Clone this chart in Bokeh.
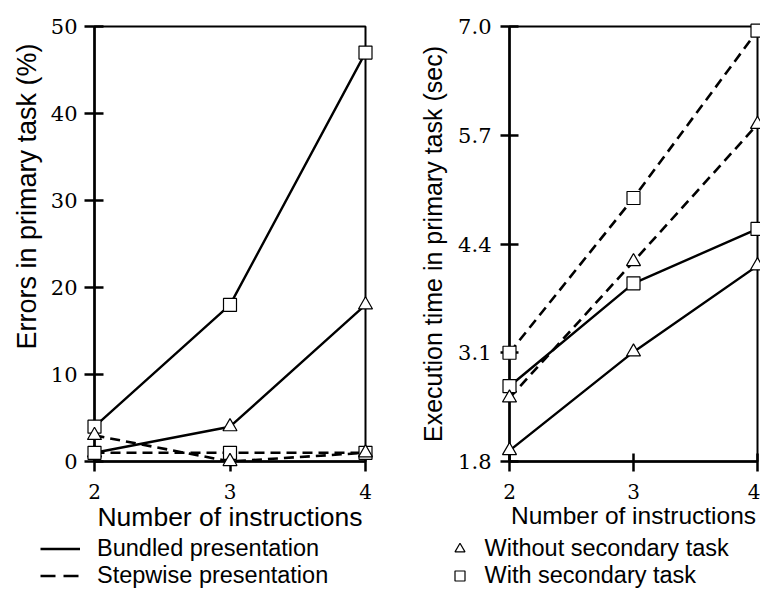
from bokeh.plotting import figure
from bokeh.layouts import row, column
from bokeh.models import Range1d, FixedTicker, Legend, LegendItem, PrintfTickFormatter, Title
from bokeh.embed import file_html
from bokeh.resources import INLINE

# ---- data ----
instructions = [2, 3, 4]
x_ticks = [2, 3, 4]
err_ticks = [0, 10, 20, 30, 40, 50]
time_ticks = [1.8, 3.1, 4.4, 5.7, 7.0]

# Errors in primary task (%)
err_bundled_with = [4, 18, 47]
err_bundled_without = [1, 4, 18]
err_stepwise_with = [1, 1, 1]
err_stepwise_without = [3, 0, 1]

# Execution time in primary task (sec)
time_bundled_with = [2.70, 3.93, 4.58]
time_bundled_without = [1.93, 3.11, 4.14]
time_stepwise_with = [3.10, 4.95, 6.95]
time_stepwise_without = [2.56, 4.19, 5.83]

SANS = "Liberation Sans"
SERIF = "DejaVu Serif"
DASH = "10 6"
PLOT_H = 534
LEG_H = 589 - PLOT_H


def make_fig(ylo, yhi, yticks, mb_left, mb_right, mb_top, xlabel_size):
    p = figure(width=380, height=PLOT_H, output_backend="svg", toolbar_location=None,
               title=None, x_range=Range1d(2, 4), y_range=Range1d(ylo, yhi),
               min_border_left=mb_left, min_border_right=mb_right,
               min_border_top=mb_top, min_border_bottom=PLOT_H - 463)
    p.background_fill_color = "white"
    p.border_fill_color = "white"
    p.outline_line_color = "black"
    p.outline_line_width = 2
    p.grid.visible = False
    for ax in (p.xaxis[0], p.yaxis[0]):
        ax.axis_line_width = 2.5
        ax.major_tick_line_width = 2.5
        ax.minor_tick_line_color = None
        ax.major_label_text_font = SERIF
        ax.major_label_text_font_size = "21px"
        ax.major_label_text_color = "black"
        ax.axis_label_text_font = SANS
        ax.axis_label_text_font_style = "normal"
        ax.axis_label_text_color = "black"
    p.xaxis.ticker = FixedTicker(ticks=x_ticks)
    p.xaxis.major_label_text_font_size = "20px"
    p.xaxis.major_tick_out = 10
    p.xaxis.major_tick_in = 8
    p.xaxis.major_label_standoff = 12
    p.xaxis.axis_label = "Number of instructions"
    p.xaxis.axis_label_text_font_size = xlabel_size
    p.xaxis.axis_label_standoff = 0
    p.yaxis.ticker = FixedTicker(ticks=yticks)
    p.yaxis.major_tick_out = 10
    p.yaxis.major_tick_in = 9
    return p


def add_series(p, ys, dash, marker, level="overlay"):
    r = p.line(instructions, ys, line_color="black",
               line_width=2.4 if dash == "solid" else 2.6, line_dash=dash)
    m = p.scatter(instructions, ys, marker=marker, size=13 if marker == "square" else 14,
                  fill_color="white", line_color="black", line_width=1.2, level=level)
    return r, m


def make_legend_fig():
    # legend strip: its frame shows a range with no data in it, so only the legend is seen
    q = figure(width=380, height=LEG_H, output_backend="svg", toolbar_location=None,
               title=None, x_range=Range1d(100, 101), y_range=Range1d(100, 101),
               x_axis_location=None, y_axis_location=None,
               min_border_left=0, min_border_right=0, min_border_top=0, min_border_bottom=0)
    q.outline_line_color = None
    q.grid.visible = False
    q.background_fill_color = "white"
    q.border_fill_color = "white"
    return q


# ---- left panel ----
p1 = make_fig(0, 50, err_ticks, 94, 15, 26, "26.5px")
p1.yaxis.major_label_standoff = 7
p1.add_layout(Title(text="Errors in primary task (%)", align="right", offset=17,
                    vertical_align="middle", standoff=10, text_font=SANS,
                    text_font_size="27px", text_font_style="normal", text_color="black"),
              "left")
add_series(p1, err_bundled_with, "solid", "square")
add_series(p1, err_bundled_without, "solid", "triangle")
add_series(p1, err_stepwise_with, DASH, "square")
add_series(p1, err_stepwise_without, DASH, "triangle")

q1 = make_legend_fig()
lq_solid, _ = add_series(q1, err_bundled_with, "solid", "square", level="glyph")
lq_dash, _ = add_series(q1, err_stepwise_with, "15 8", "square", level="glyph")
leg1 = Legend(items=[LegendItem(label="Bundled presentation", renderers=[lq_solid]),
                     LegendItem(label="Stepwise presentation", renderers=[lq_dash])],
              location=(40, 0.5), padding=0, margin=0, spacing=0,
              glyph_width=40, glyph_height=27, label_height=27, label_standoff=17,
              label_text_font=SANS, label_text_font_size="23.5px", label_text_color="black",
              border_line_alpha=0, background_fill_alpha=0)
q1.add_layout(leg1)

# ---- right panel ----
p2 = make_fig(1.8, 7.0, time_ticks, 129, 3, 18, "24.5px")
p2.yaxis.formatter = PrintfTickFormatter(format="%.1f")
p2.yaxis.major_label_standoff = 9
p2.yaxis.major_tick_out = 9
p2.yaxis.axis_label = "Execution time in primary task (sec)"
p2.yaxis.axis_label_text_font_size = "25px"
p2.yaxis.axis_label_standoff = 8
add_series(p2, time_bundled_with, "solid", "square")
add_series(p2, time_bundled_without, "solid", "triangle")
add_series(p2, time_stepwise_with, DASH, "square")
add_series(p2, time_stepwise_without, DASH, "triangle")

q2 = make_legend_fig()
_, mq_tri = add_series(q2, time_bundled_without, "solid", "triangle", level="glyph")
_, mq_sq = add_series(q2, time_bundled_with, "solid", "square", level="glyph")
leg2 = Legend(items=[LegendItem(label="Without secondary task", renderers=[mq_tri]),
                     LegendItem(label="With secondary task", renderers=[mq_sq])],
              location=(66.5, 0.5), padding=0, margin=0, spacing=0,
              glyph_width=25, glyph_height=27, label_height=27, label_standoff=13,
              label_text_font=SANS, label_text_font_size="23.5px", label_text_color="black",
              border_line_alpha=0, background_fill_alpha=0)
q2.add_layout(leg2)

layout = column(row(p1, p2, spacing=0), row(q1, q2, spacing=0), spacing=0)

open("out.html", "w").write(file_html(layout, INLINE))
